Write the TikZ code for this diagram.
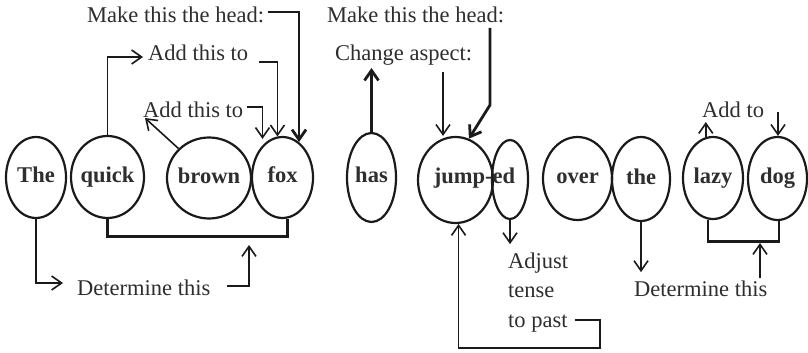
\documentclass[tikz,border=0pt]{standalone}
\usepackage{fontspec}
\setmainfont{Liberation Serif}
\usetikzlibrary{shapes.geometric,arrows.meta}
\definecolor{ink}{HTML}{1A1A1A}
\definecolor{txt}{HTML}{2E2E2E}
\tikzset{
  word/.style={ellipse, draw=ink, line width=2.2pt, inner sep=0pt, font=\bfseries,
               text=txt, text height=15pt, text depth=5pt},
  lbl/.style={inner sep=0pt, text=txt, anchor=base west},
  thinline/.style={draw=ink, line width=1.6pt},
  heavyline/.style={draw=ink, line width=2.8pt},
  tip/.style={-{Straight Barb[length=10pt,width=14pt]}},
}
\begin{document}
\fontsize{22.5}{29.5}\selectfont
\begin{tikzpicture}[x=1pt,y=-1pt]
\useasboundingbox (0,0) rectangle (808,353);
\fill[white] (0,0) rectangle (808,353);

% word ellipses
\node[word, minimum width=60pt, minimum height=81pt] (The)   at (36,177.5)  {\makebox[0pt]{The}};
\node[word, minimum width=73pt, minimum height=82pt] (quick) at (107.5,177) {\makebox[0pt]{quick}};
\node[word, minimum width=84pt, minimum height=81pt] (brown) at (209,178)   {\makebox[0pt]{brown}};
\node[word, minimum width=61pt, minimum height=81pt] (fox)   at (282.5,177.5) {\makebox[0pt]{fox}};
\node[word, minimum width=49pt, minimum height=89pt] (has)   at (371.5,177.5) {\makebox[0pt]{has}};
\node[word, minimum width=75pt, minimum height=86pt] (jump)  at (455.5,180) {};
\node[word, minimum width=36pt, minimum height=79pt] (ed)    at (510,179.5) {};
\node[font=\bfseries, text=txt, inner sep=0pt, anchor=base] (jumped) at (474.5,183) {jump-ed};
\node[word, minimum width=69pt, minimum height=83pt] (over)  at (577.5,178.5) {\makebox[0pt]{over}};
\node[word, minimum width=58pt, minimum height=84pt] (the)   at (641,179)   {\makebox[0pt]{the}};
\node[word, minimum width=60pt, minimum height=82pt] (lazy)  at (713,178)   {\makebox[0pt]{lazy}};
\node[word, minimum width=59pt, minimum height=83pt] (dog)   at (777.5,178.5) {\makebox[0pt]{dog}};

% annotations
\node[lbl] (head1) at (87,23)   {Make this the head:};
\node[lbl] (add1)  at (148,60)  {Add this to};
\node[lbl] (add2)  at (143,117) {Add this to};
\node[lbl] (head2) at (327,23)  {Make this the head:};
\node[lbl] (chg)   at (335,61)  {Change aspect:};
\node[lbl] (addto) at (702,117) {Add to};
\node[lbl] (det1)  at (77,295)  {Determine this};
\node[lbl, align=left, anchor=north west] (adj) at (508,252.5) {Adjust\\tense\\to past};
\node[lbl] (det2)  at (634,296) {Determine this};

% free ends of connectors
\coordinate (h1end) at (268,12);
\coordinate (a1in)  at (143,57);
\coordinate (a1out) at (259,62);
\coordinate (a2in)  at (145,118);
\coordinate (a2out) at (247,107);
\coordinate (hasup) at (371.5,68);
\coordinate (ca)    at (443,72);
\coordinate (h2a)   at (490,28);
\coordinate (h2b)   at (490,105);
\coordinate (adt)   at (778,112);
\coordinate (d1in)  at (63,283);
\coordinate (d1out) at (227,286);
\coordinate (d1up)  at (249,245);
\coordinate (tp)    at (575,320);
\coordinate (loop)  at (600,348);
\coordinate (d2in)  at (760,278);
\coordinate (d2up)  at (760,243);

% upper connectors
\draw[heavyline, tip] (h1end) -| (fox.65);
\draw[thinline, tip] (quick.north) |- (a1in);
\draw[thinline, tip] (a1out) -| (fox.97);
\draw[thinline, tip] (brown.136) -- (a2in);
\draw[thinline, tip] (a2out) -| ([xshift=-20pt,yshift=-3pt]fox.north);
\draw[heavyline, tip] (has.north) -- (hasup);
\draw[thinline, tip] (ca) -- (ca |- jump.north);
\draw[heavyline, tip] (h2a) -- (h2b) -- (jump.72);
\draw[thinline, tip] (lazy.100) -- ++(0,-15);
\draw[thinline, tip] (adt) -- (adt |- dog.north);

% lower connectors
\draw[thinline, tip] (The.south) |- (d1in);
\draw[heavyline] (quick.south) -- ++(0,17) -| (fox.-83);
\draw[thinline, tip] (d1out) -| (d1up);
\draw[thinline, tip] (tp) -| (loop) -| (jump.-86);
\draw[thinline, tip] (ed.south) -- ++(0,24);
\draw[thinline, tip] (the.south) -- ++(0,50);
\draw[heavyline] (lazy.-97) -- ++(0,22) -| (dog.-88);
\draw[thinline, tip] (d2in) -- (d2up);
\end{tikzpicture}
\end{document}
